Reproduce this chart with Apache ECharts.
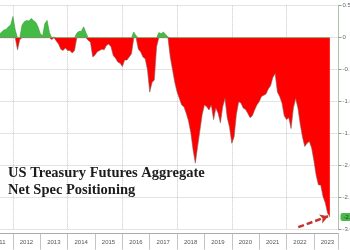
<!DOCTYPE html>
<html>
<head>
<meta charset="utf-8">
<script src="https://cdn.jsdelivr.net/npm/echarts@6/dist/echarts.min.js"></script>
<style>
  html, body { margin: 0; padding: 0; background: #fff; }
  #chart { width: 350px; height: 250px; }
</style>
</head>
<body>
<div id="chart"></div>
<script>
// monthly readings, first one mid-2011
const startYear = 2011.5
const stepYears = 1 / 12
const netSpec = [
  0.05, 0.09, 0.12, 0.13, 0.17, 0.2, 0.33, 0.12, -0.19, -0.03, 0.2, 0.25,
  0.27, 0.26, 0.3, 0.27, 0.24, 0.17, 0.06, 0.03, 0.22, 0.27, 0.08, -0.03,
  0.01, -0.05, -0.1, -0.18, -0.2, -0.16, -0.2, -0.2, -0.24, -0.2, 0.07, 0.1,
  0.1, 0.17, 0.08, -0.04, -0.07, -0.3, -0.27, -0.22, -0.2, -0.18, -0.19, -0.12,
  -0.1, -0.14, -0.28, -0.32, -0.38, -0.4, -0.45, -0.35, -0.35, -0.3, -0.25, 0.09,
  0.03, -0.18, -0.22, -0.3, -0.33, -0.5, -0.85, -0.7, -0.66, -0.14, 0.08, 0.06,
  0.09, 0.05, 0.01, -0.3, -0.5, -0.7, -0.85, -0.95, -1.05, -1.08, -1.18, -1.3,
  -1.48, -1.75, -1.96, -1.7, -1.45, -1.2, -1.05, -1.08, -1.13, -1.05, -1.28, -1.1,
  -1.18, -1.33, -1.08, -0.95, -1.25, -1.4, -1.65, -1.55, -1.2, -1.0, -1.02, -1.1,
  -1.12, -1.18, -1.25, -1.22, -1.13, -1.05, -1.0, -0.92, -0.9, -0.88, -0.8, -0.75,
  -0.62, -0.56, -0.85, -0.92, -1.02, -1.22, -1.28, -1.25, -1.42, -1.1, -0.95, -1.1,
  -1.35, -1.55, -1.7, -1.65, -1.62, -1.72, -1.92, -2.15, -2.3, -2.3, -2.48, -2.58,
  -2.74, -2.8
]
const yearMin = 2011
const yearMax = 2023.9
const titleLines = ['US Treasury Futures Aggregate', 'Net Spec Positioning']
// dashed arrow pointing at the latest reading
const arrowFrom = [2022.43, -2.96]
const arrowTo = [2023.52, -2.79]

const chart = echarts.init(document.getElementById('chart'))
const last = netSpec[netSpec.length - 1]
const posData = netSpec.map((v, i) => [startYear + i * stepYears, Math.max(v, 0)])
const negData = netSpec.map((v, i) => [startYear + i * stepYears, Math.min(v, 0)])

chart.setOption({
  animation: false,
  title: {
    text: titleLines.join('\n'),
    left: 8,
    top: 165,
    padding: 0,
    textStyle: {
      fontFamily: 'Liberation Serif',
      fontWeight: 'bold',
      fontSize: 14.5,
      lineHeight: 17,
      color: '#1c1c1c'
    }
  },
  grid: {
    left: -14.4,
    right: 11.5,
    top: 5.7,
    bottom: 20.3,
    outerBoundsMode: 'none'
  },
  xAxis: {
    type: 'value',
    min: yearMin,
    max: yearMax,
    interval: 1,
    offset: 4,
    axisLine: { onZero: false, lineStyle: { color: '#aaa' } },
    axisTick: { length: 16, lineStyle: { color: '#c4c4c4' } },
    axisLabel: {
      fontSize: 6,
      color: '#555',
      margin: 6,
      padding: [0, 0, 0, 27],
      formatter: v => Number.isInteger(v) ? String(v) : ''
    },
    splitLine: {
      show: true,
      lineStyle: { type: 'dotted', color: ['rgba(0,0,0,0)', '#c8c8c8'] }
    }
  },
  yAxis: {
    type: 'value',
    position: 'right',
    min: -3,
    max: 0.5,
    interval: 0.5,
    axisLine: { show: true, lineStyle: { color: '#a9c4a9' } },
    axisTick: { show: true, length: 3, lineStyle: { color: '#999' } },
    axisLabel: {
      fontSize: 6,
      color: '#666',
      margin: 4,
      formatter: v => v === 0 ? '0' : v.toFixed(1)
    },
    splitLine: { lineStyle: { type: 'dotted', color: '#c8c8c8' } }
  },
  series: [
    {
      type: 'line',
      data: posData,
      symbol: 'none',
      z: 3,
      lineStyle: { width: 0.6, color: '#3e9e3e' },
      areaStyle: { color: '#44bb44', opacity: 1, origin: 0 }
    },
    {
      type: 'line',
      data: negData,
      symbol: 'none',
      lineStyle: { width: 0.6, color: '#8c5a5a' },
      areaStyle: { color: '#fe0000', opacity: 1, origin: 0 },
      markLine: {
        silent: true,
        symbol: ['none', 'none'],
        lineStyle: { color: '#c6312d', width: 2.5, type: [6, 3] },
        label: { show: false },
        data: [
          [
            { coord: arrowFrom, symbol: 'none' },
            { coord: arrowTo, symbol: 'arrow', symbolSize: [7, 8] }
          ],
          {
            yAxis: last,
            lineStyle: { color: 'rgba(0,0,0,0)', width: 0 },
            label: {
              show: true,
              position: 'end',
              distance: 2,
              fontSize: 6,
              color: '#1d3d1d',
              backgroundColor: '#4cb84c',
              padding: [1, 3],
              borderRadius: 2,
              formatter: last.toFixed(2)
            }
          }
        ]
      }
    }
  ]
})
</script>
</body>
</html>
